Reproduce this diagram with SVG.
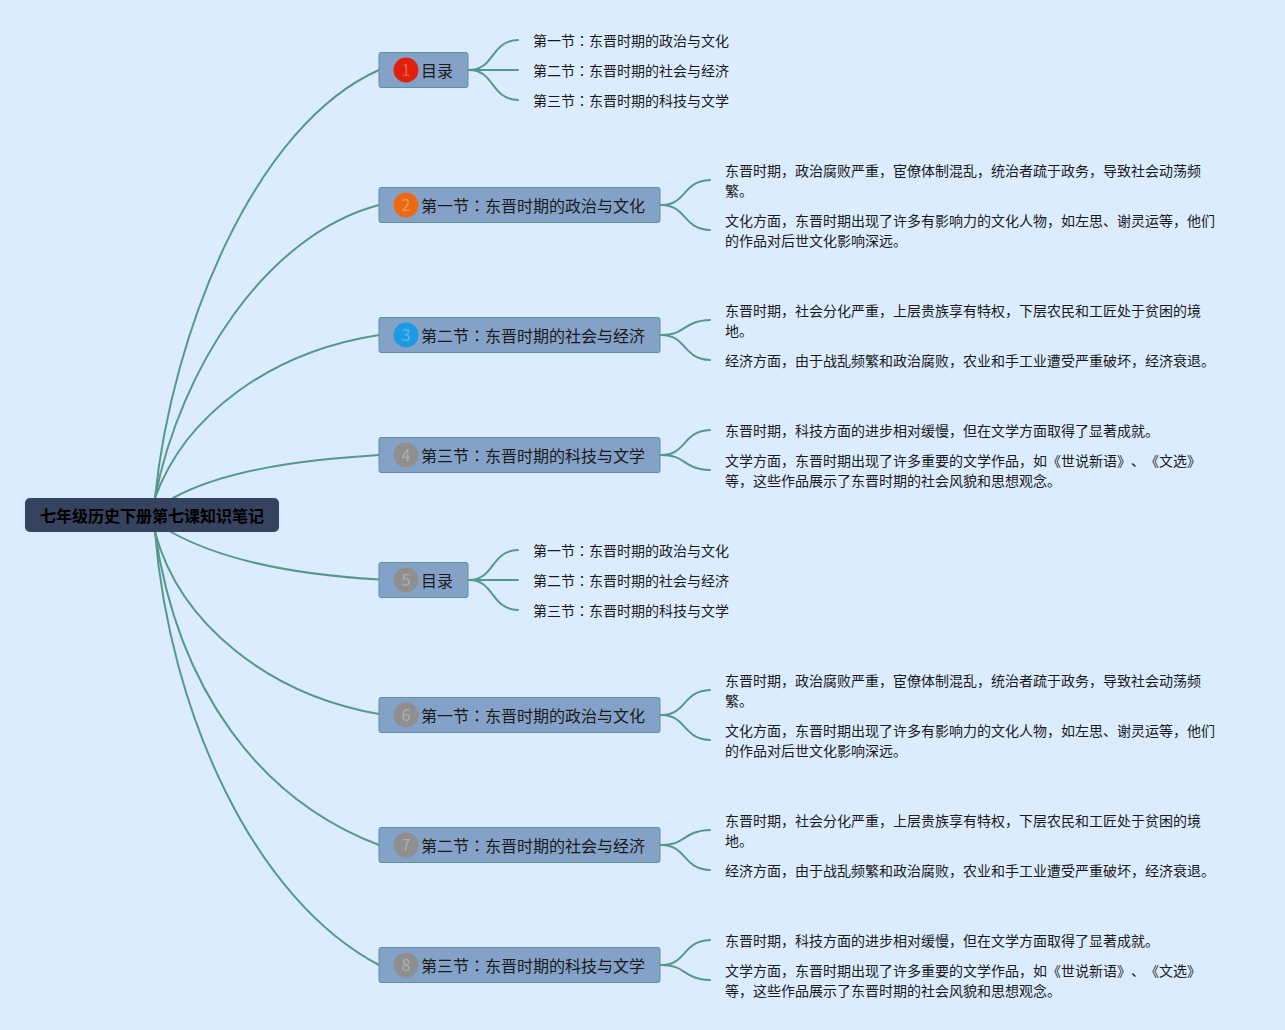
<svg xmlns="http://www.w3.org/2000/svg" width="1285" height="1030" viewBox="0 0 1285 1030">
<style>
text{font-family:"Noto Sans CJK SC","Liberation Sans",sans-serif;fill:#1a1a1a;text-spacing-trim:space-all;font-feature-settings:"chws" 0,"halt" 0,"palt" 0;font-kerning:none}
.c{font-family:"Noto Sans CJK TC","Liberation Sans",sans-serif}
.l{font-size:14px}
.b{font-size:16px}
.r{font-size:16px;font-weight:700;fill:#000}
.box{fill:#84a2c8;stroke:#5d9490;stroke-width:1}
.n{font-size:16px;fill-opacity:.3;fill:#fff;text-anchor:middle}
#connectors path{fill:none;stroke:#57988c;stroke-width:2;stroke-linecap:round}
</style>
<rect width="1285" height="1030" fill="#dbecff"/>
<g id="connectors">
<path d="M155 498C172 330 255 125 379 70"/>
<path d="M155 498C180 370 265 235 379 205"/>
<path d="M155 498C185 415 270 352 379 335"/>
<path d="M173 498C225 470 300 460 379 455"/>
<path d="M171 532C225 562 300 575 379 579.500"/>
<path d="M155 532C180 625 270 695 379 714"/>
<path d="M155 532C178 690 260 800 379 845"/>
<path d="M155 532C170 715 255 900 379 965"/>
<path d="M469 70C495 70 490 41 518 40"/><path d="M469 70H518"/><path d="M469 70C495 70 490 99 518 100"/>
<path d="M661 205C687 205 682 181 710 180"/><path d="M661 205C687 205 682 229 710 230"/>
<path d="M661 335C687 335 682 321 710 320"/><path d="M661 335C687 335 682 359 710 360"/>
<path d="M661 455C687 455 682 431 710 430"/><path d="M661 455C687 455 682 469 710 470"/>
<path d="M469 580C495 580 490 551 518 550"/><path d="M469 580H518"/><path d="M469 580C495 580 490 609 518 610"/>
<path d="M661 715C687 715 682 691 710 690"/><path d="M661 715C687 715 682 739 710 740"/>
<path d="M661 845C687 845 682 831 710 830"/><path d="M661 845C687 845 682 869 710 870"/>
<path d="M661 965C687 965 682 941 710 940"/><path d="M661 965C687 965 682 979 710 980"/>
</g>
<g id="root"><rect x="25" y="498" width="254" height="34" rx="5" fill="#36435f"/><text class="r" x="40" y="522">七年级历史下册第七课知识笔记</text></g>
<g id="n1"><rect class="box" x="379" y="52.500" width="89" height="35" rx="2"/><circle cx="406" cy="70" r="12.500" fill="#e0200a"/><text class="n" x="406" y="76">1</text><text class="b" x="421" y="76.500">目录</text></g>
<g id="n2"><rect class="box" x="379" y="187.500" width="281" height="35" rx="2"/><circle cx="406" cy="205" r="12.500" fill="#ea6a12"/><text class="n" x="406" y="211">2</text><text class="b" x="421" y="211.500">第一节<tspan class="c">：</tspan>东晋时期的政治与文化</text></g>
<g id="n3"><rect class="box" x="379" y="317.500" width="281" height="35" rx="2"/><circle cx="406" cy="335" r="12.500" fill="#1e9ae0"/><text class="n" x="406" y="341">3</text><text class="b" x="421" y="341.500">第二节<tspan class="c">：</tspan>东晋时期的社会与经济</text></g>
<g id="n4"><rect class="box" x="379" y="437.500" width="281" height="35" rx="2"/><circle cx="406" cy="455" r="12.500" fill="#8f8f8f"/><text class="n" x="406" y="461">4</text><text class="b" x="421" y="461.500">第三节<tspan class="c">：</tspan>东晋时期的科技与文学</text></g>
<g id="n5"><rect class="box" x="379" y="562.500" width="89" height="35" rx="2"/><circle cx="406" cy="580" r="12.500" fill="#8f8f8f"/><text class="n" x="406" y="586">5</text><text class="b" x="421" y="586.500">目录</text></g>
<g id="n6"><rect class="box" x="379" y="697.500" width="281" height="35" rx="2"/><circle cx="406" cy="715" r="12.500" fill="#8f8f8f"/><text class="n" x="406" y="721">6</text><text class="b" x="421" y="721.500">第一节<tspan class="c">：</tspan>东晋时期的政治与文化</text></g>
<g id="n7"><rect class="box" x="379" y="827.500" width="281" height="35" rx="2"/><circle cx="406" cy="845" r="12.500" fill="#8f8f8f"/><text class="n" x="406" y="851">7</text><text class="b" x="421" y="851.500">第二节<tspan class="c">：</tspan>东晋时期的社会与经济</text></g>
<g id="n8"><rect class="box" x="379" y="947.500" width="281" height="35" rx="2"/><circle cx="406" cy="965" r="12.500" fill="#8f8f8f"/><text class="n" x="406" y="971">8</text><text class="b" x="421" y="971.500">第三节<tspan class="c">：</tspan>东晋时期的科技与文学</text></g>
<g id="leaves1"><text class="l" x="533" y="46">第一节<tspan class="c">：</tspan>东晋时期的政治与文化</text><text class="l" x="533" y="76">第二节<tspan class="c">：</tspan>东晋时期的社会与经济</text><text class="l" x="533" y="106">第三节<tspan class="c">：</tspan>东晋时期的科技与文学</text></g>
<g id="leaves2"><text class="l" x="725" y="176">东晋时期，政治腐败严重，宦僚体制混乱，统治者疏于政务，导致社会动荡频</text><text class="l" x="725" y="196">繁。</text><text class="l" x="725" y="226">文化方面，东晋时期出现了许多有影响力的文化人物，如左思、谢灵运等，他们</text><text class="l" x="725" y="246">的作品对后世文化影响深远。</text></g>
<g id="leaves3"><text class="l" x="725" y="316">东晋时期，社会分化严重，上层贵族享有特权，下层农民和工匠处于贫困的境</text><text class="l" x="725" y="336">地。</text><text class="l" x="725" y="366">经济方面，由于战乱频繁和政治腐败，农业和手工业遭受严重破坏，经济衰退。</text></g>
<g id="leaves4"><text class="l" x="725" y="436">东晋时期，科技方面的进步相对缓慢，但在文学方面取得了显著成就。</text><text class="l" x="725" y="466">文学方面，东晋时期出现了许多重要的文学作品，如《世说新语》、《文选》</text><text class="l" x="725" y="486">等，这些作品展示了东晋时期的社会风貌和思想观念。</text></g>
<g id="leaves5"><text class="l" x="533" y="556">第一节<tspan class="c">：</tspan>东晋时期的政治与文化</text><text class="l" x="533" y="586">第二节<tspan class="c">：</tspan>东晋时期的社会与经济</text><text class="l" x="533" y="616">第三节<tspan class="c">：</tspan>东晋时期的科技与文学</text></g>
<g id="leaves6"><text class="l" x="725" y="686">东晋时期，政治腐败严重，宦僚体制混乱，统治者疏于政务，导致社会动荡频</text><text class="l" x="725" y="706">繁。</text><text class="l" x="725" y="736">文化方面，东晋时期出现了许多有影响力的文化人物，如左思、谢灵运等，他们</text><text class="l" x="725" y="756">的作品对后世文化影响深远。</text></g>
<g id="leaves7"><text class="l" x="725" y="826">东晋时期，社会分化严重，上层贵族享有特权，下层农民和工匠处于贫困的境</text><text class="l" x="725" y="846">地。</text><text class="l" x="725" y="876">经济方面，由于战乱频繁和政治腐败，农业和手工业遭受严重破坏，经济衰退。</text></g>
<g id="leaves8"><text class="l" x="725" y="946">东晋时期，科技方面的进步相对缓慢，但在文学方面取得了显著成就。</text><text class="l" x="725" y="976">文学方面，东晋时期出现了许多重要的文学作品，如《世说新语》、《文选》</text><text class="l" x="725" y="996">等，这些作品展示了东晋时期的社会风貌和思想观念。</text></g>
</svg>
